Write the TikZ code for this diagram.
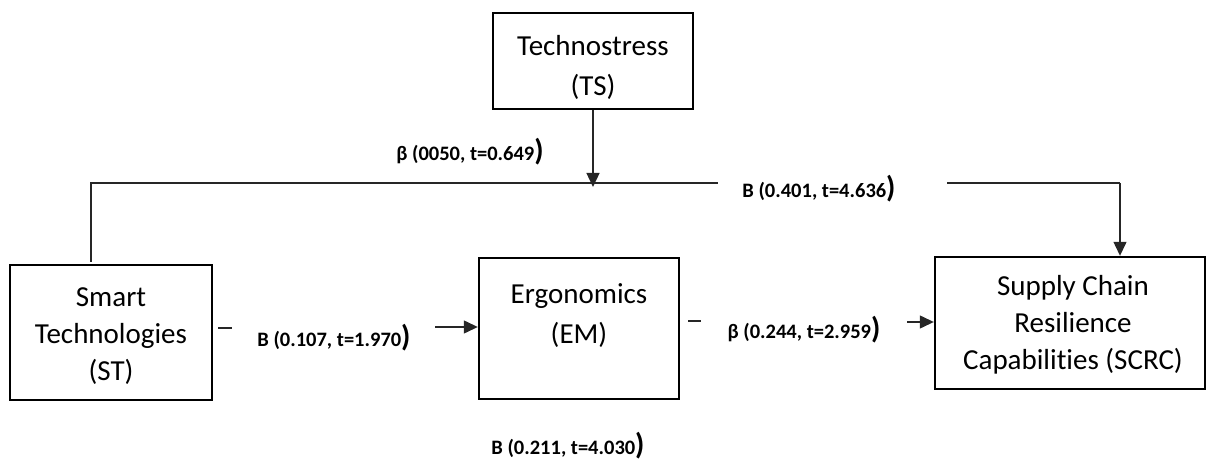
\documentclass[tikz,border=0pt]{standalone}
\usepackage{fontspec}
\setmainfont{Carlito}[Ligatures=NoCommon]
\usetikzlibrary{arrows.meta}
\begin{document}
\begin{tikzpicture}[x=1pt,y=-1pt,
  box/.style={draw=black,line width=2.4pt,inner sep=0pt},
  boxtext/.style={align=center,inner sep=0pt,font=\fontsize{29}{37}\selectfont},
  lab/.style={inner sep=0pt,font=\fontsize{20.5}{24}\selectfont\bfseries},
  conn/.style={draw=black!85,line width=1.3pt},
  arr/.style={conn,-{Triangle[length=14pt,width=13pt]}}]
\useasboundingbox (0,0) rectangle (1207,462);
% boxes
\node[box,minimum width=200pt,minimum height=96pt] (ts) at (593,61) {};
\node[boxtext] (tst) at (593,67) {Technostress\\[3pt](TS)};
\node[box,minimum width=202pt,minimum height=135pt] (st) at (111,332.5) {};
\node[boxtext] (stt) at (111,336) {Smart\\Technologies\\(ST)};
\node[box,minimum width=200pt,minimum height=141pt] (em) at (579,328.5) {};
\node[boxtext] (emt) at (579,316) {Ergonomics\\[3pt](EM)};
\node[box,minimum width=270pt,minimum height=132pt] (scrc) at (1070,323) {};
\node[boxtext] (scrct) at (1073,325) {Supply Chain\\Resilience\\Capabilities (SCRC)};
% labels
\newcommand{\bigparen}{{\fontsize{30}{30}\selectfont)}}
\node[lab] (l1) at (470,152) {β (0050, t=0.649\bigparen};
\node[lab] (l2) at (819,189) {B (0.401, t=4.636\bigparen};
\node[lab] (l3) at (334,338) {B (0.107, t=1.970\bigparen};
\node[lab] (l4) at (804,330) {β (0.244, t=2.959\bigparen};
\node[lab] (l5) at (568,446) {B (0.211, t=4.030\bigparen};
% coordinates
\coordinate (stTop) at (91,262);
\coordinate (c1) at (91,183);
\coordinate (c2) at (718,183);
\coordinate (c3) at (947,183);
\coordinate (c4) at (1120,183);
\coordinate (tsEnd) at (593,187);
\coordinate (d1a) at (218,328);
\coordinate (d1b) at (232,328);
\coordinate (d2a) at (688,321);
\coordinate (d2b) at (701,321);
\coordinate (a1) at (435,327);
\coordinate (a2) at (907,322);
% connectors
\draw[conn] (stTop) -- (c1) -- (c2);
\draw[arr] (ts.south) -- (tsEnd);
\draw[conn] (c3) -- (c4);
\draw[arr] (c4) -- (c4 |- scrc.north);
\draw[conn] (d1a) -- (d1b);
\draw[arr] (a1) -- (a1 -| em.west);
\draw[conn] (d2a) -- (d2b);
\draw[arr] (a2) -- (a2 -| scrc.west);
\end{tikzpicture}
\end{document}
